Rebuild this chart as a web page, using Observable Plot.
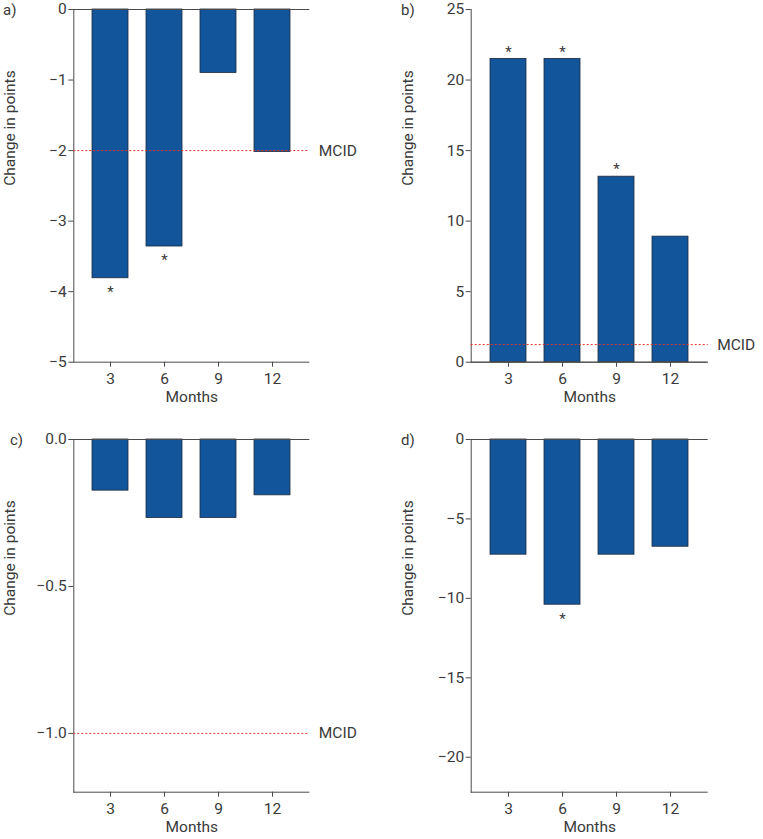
<!DOCTYPE html>
<html><head><meta charset="utf-8">
<script src="https://cdn.jsdelivr.net/npm/d3@7"></script>
<script src="https://cdn.jsdelivr.net/npm/@observablehq/plot@0.6"></script>
<style>
body{margin:0;background:#fff}
#c{position:relative;width:763px;height:839px;overflow:hidden}
#c svg{position:absolute}
.lab{position:absolute;font:15px Roboto,sans-serif;color:#3a3a3a;line-height:1}
</style>
</head><body><div id="c"></div>
<script>
const months = ["3", "6", "9", "12"];
const valuesA = [-3.81, -3.36, -0.90, -2.02];
const valuesB = [21.5, 21.5, 13.15, 8.9];
const valuesC = [-0.174, -0.267, -0.267, -0.19];
const valuesD = [-7.25, -10.4, -7.25, -6.75];
const starsA = [true, true, false, false];
const starsB = [true, true, true, false];
const starsC = [false, false, false, false];
const starsD = [false, true, false, false];
const ticksA = [0, -1, -2, -3, -4, -5];
const ticksB = [0, 5, 10, 15, 20, 25];
const ticksC = [0, -0.5, -1.0];
const ticksD = [0, -5, -10, -15, -20];
const domainA = [-5, 0], domainB = [0, 25], domainC = [-1.2, 0], domainD = [-22.2, 0];
const mcidA = -2, mcidB = 1.25, mcidC = -1, mcidD = null;
const panelLabels = ["a)", "b)", "c)", "d)"];

const BAR = "#13559a", AX = "#4a4a4a", RED = "#e8302a";

function panel({values, stars, ticks, domain, mcid, fmt, left, top, width, height, mL, mR, mT, mB}) {
  const data = months.map((m, i) => ({m, v: values[i], s: stars[i]}));
  const pos = domain[0] >= 0;
  const marks = [
    Plot.barY(data, {x: "m", y: "v", fill: BAR, stroke: "#1d2a3c", strokeWidth: 0.8}),
    Plot.frame({anchor: "left", stroke: AX}),
    Plot.ruleY([domain[0]], {stroke: AX}),
    Plot.ruleY([0], {stroke: AX}),
    Plot.axisY({ticks, tickFormat: d3.format(fmt), tickSize: 5, tickPadding: 2, label: null, stroke: AX, fontSize: 15.5}),
    Plot.axisX({tickSize: 5, tickPadding: 6, label: null, stroke: AX, fontSize: 15.5}),
    Plot.text(data.filter(d => d.s), {x: "m", y: "v", text: () => "*", dy: pos ? -7 : 14, fontSize: 15}),
    Plot.text(["Months"], {frameAnchor: "bottom", text: d => d, dy: 40, fontSize: 15.5}),
    Plot.text(["Change in points"], {frameAnchor: "left", text: d => d, rotate: -90, dx: -63.5, fontSize: 15.5})
  ];
  if (mcid != null) {
    marks.push(Plot.ruleY([mcid], {stroke: RED, strokeWidth: 1, strokeDasharray: "2,2"}));
    marks.push(Plot.text([mcid], {y: d => d, frameAnchor: "right", text: () => "MCID", textAnchor: "start", dx: 9, fontSize: 15.5}));
  }
  const svg = Plot.plot({
    width, height, marginLeft: mL, marginRight: mR, marginTop: mT, marginBottom: mB,
    x: {domain: months, padding: 0.33},
    y: {domain, nice: false},
    style: {fontFamily: "Roboto, sans-serif", fontSize: "15px", color: "#3a3a3a", background: "transparent", overflow: "visible"},
    marks
  });
  svg.style.left = left + "px";
  svg.style.top = top + "px";
  document.getElementById("c").appendChild(svg);
}

panel({values: valuesA, stars: starsA, ticks: ticksA, domain: domainA, mcid: mcidA, fmt: "d",
  left: 0, top: 0, width: 380, height: 410, mL: 73.3, mR: 70.7, mT: 9, mB: 48.3});
panel({values: valuesB, stars: starsB, ticks: ticksB, domain: domainB, mcid: mcidB, fmt: "d",
  left: 380, top: 0, width: 383, height: 410, mL: 90.7, mR: 55.3, mT: 9, mB: 48.3});
panel({values: valuesC, stars: starsC, ticks: ticksC, domain: domainC, mcid: mcidC, fmt: ".1f",
  left: 0, top: 400, width: 380, height: 439, mL: 73.3, mR: 70.7, mT: 39, mB: 47.3});
panel({values: valuesD, stars: starsD, ticks: ticksD, domain: domainD, mcid: mcidD, fmt: "d",
  left: 380, top: 400, width: 383, height: 439, mL: 90.7, mR: 55.3, mT: 39, mB: 47.3});

const labPos = [[3, 3], [401, 3], [10, 433], [401, 433]];
panelLabels.forEach((t, i) => {
  const d = document.createElement("div");
  d.className = "lab"; d.textContent = t;
  d.style.left = labPos[i][0] + "px"; d.style.top = labPos[i][1] + "px";
  document.getElementById("c").appendChild(d);
});
</script>
</body></html>
